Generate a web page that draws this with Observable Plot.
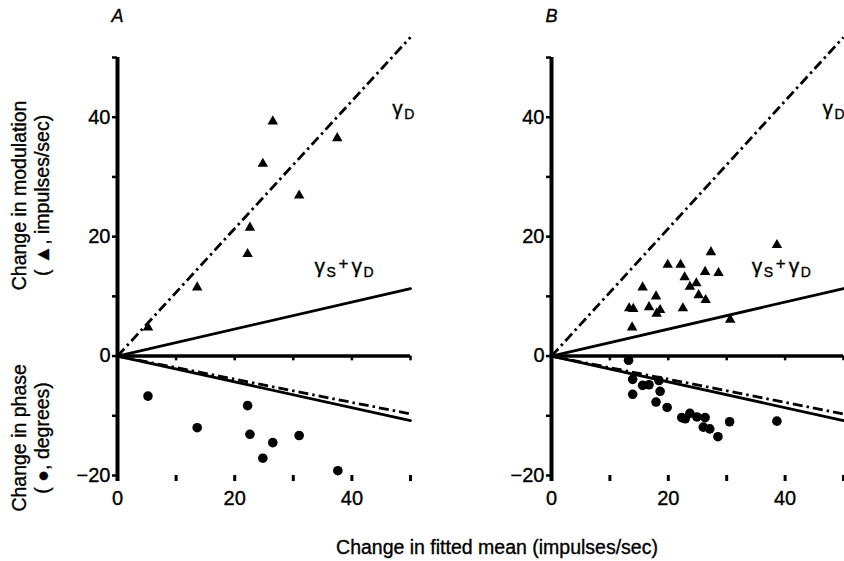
<!DOCTYPE html>
<html><head><meta charset="utf-8">
<script src="https://cdn.jsdelivr.net/npm/d3@7"></script>
<script src="https://cdn.jsdelivr.net/npm/@observablehq/plot@0.6"></script>
<style>
body{margin:0;background:#fff}
#fig{position:relative;width:844px;height:561px;overflow:hidden;background:#fff;font-family:"Liberation Sans",Arial,Helvetica,sans-serif;color:#000}
#pa,#pb{position:absolute;top:0}
#pa{left:0}
#pb{left:430px}
#xt{position:absolute;left:247px;width:500px;top:538px;text-align:center;font-size:19.5px;line-height:1;white-space:nowrap;-webkit-text-stroke:0.35px #000}
#fig svg text{stroke:#000;stroke-width:0.35px}
</style></head><body>
<div id="fig"><div id="pa"></div><div id="pb"></div><div id="xt"></div></div>
<script>
// ---- tick values and labels ----
const xTicks = [0, 10, 20, 30, 40, 50];
const xTickLabels = ["0", "", "20", "", "40", ""];
const yTicks = [-20, -10, 0, 10, 20, 30, 40, 50];
const yTickLabels = ["\u221220", "", "0", "", "20", "", "40", ""];

// ---- fitted lines (endpoints at fitted mean 0 and 50) ----
const fitX = [0, 50];
const modGammaD = [0, 53.4];     // dash-dot, gamma D
const modGammaSD = [0, 11.3];    // solid, gamma S + gamma D
const phaseGammaD = [0, -9.7];   // dash-dot
const phaseGammaSD = [0, -10.8]; // solid

// ---- panel A ----
const aMean       = [5.2, 13.6, 22.2, 22.6, 24.8, 26.5, 31.0, 37.5];
const aModulation = [4.8, 11.5, 17.1, 21.5, 32.2, 39.3, 26.9, 36.5];
const aPhaseMean  = [5.2, 13.6, 22.2, 22.6, 24.8, 26.5, 31.0, 37.6];
const aPhase      = [-6.7, -12.0, -8.3, -13.1, -17.1, -14.5, -13.3, -19.2];

// ---- panel B ----
const bModMean    = [13.3, 14.0, 13.8, 15.6, 16.7, 17.9, 18.0, 18.6, 19.9, 22.1, 22.5, 22.8, 23.7, 24.8, 25.2, 26.4, 26.3, 27.3, 28.6, 30.6, 38.6];
const bModulation = [8.0, 7.9, 4.8, 11.5, 8.2, 10.0, 7.1, 7.7, 15.3, 15.3, 8.0, 13.2, 11.6, 12.2, 10.2, 9.4, 14.1, 17.4, 13.9, 6.1, 18.6];
const bPhaseMean  = [13.2, 13.9, 13.9, 15.6, 16.7, 18.4, 18.6, 17.9, 19.8, 22.3, 22.9, 23.7, 24.9, 26.3, 26.0, 27.1, 28.5, 30.5, 38.6];
const bPhase      = [-0.7, -3.9, -6.4, -4.9, -4.8, -4.1, -5.9, -7.7, -8.6, -10.3, -10.5, -9.6, -10.2, -10.3, -11.9, -12.2, -13.5, -11.0, -10.9];

// ---- texts ----
const panelLetters = ["A", "B"];
const yTitleMod = ["Change in modulation", "( \u25B2, impulses/sec)"];
const yTitlePhase = ["Change in phase", "( \u25CF, degrees)"];
const xTitle = "Change in fitted mean (impulses/sec)";
// label anchors (data coords of label baseline start)
const labelAnchorA = {gD: [46.9, 40.4], gSD: [33.6, 13.9]};
const labelAnchorB = {gD: [46.4, 40.4], gSD: [34.3, 13.9]};
const titleY = {mod: 26.9, phase: -13.7};

document.getElementById("xt").textContent = xTitle;

const xLab = new Map(xTicks.map((d, i) => [d, xTickLabels[i]]));
const yLab = new Map(yTicks.map((d, i) => [d, yTickLabels[i]]));

const fits = [
  {name: "modD", ys: modGammaD, dash: true},
  {name: "modSD", ys: modGammaSD, dash: false},
  {name: "phD", ys: phaseGammaD, dash: true},
  {name: "phSD", ys: phaseGammaSD, dash: false}
];
const fitRows = fits.flatMap(f => fitX.map((x, i) => ({x, y: f.ys[i], fit: f.name, dash: f.dash})));

const gammaDPieces = [{t: "\u03B3", dx: 0, dy: 0, s: 21}, {t: "D", dx: 12, dy: 4, s: 14}];
const gammaSDPieces = [
  {t: "\u03B3", dx: 0, dy: 0, s: 21},
  {t: "S", dx: 12, dy: 4, s: 14},
  {t: "+", dx: 24, dy: -4, s: 17},
  {t: "\u03B3", dx: 37, dy: 0, s: 21},
  {t: "D", dx: 49, dy: 4, s: 14}
];
function pieceMarks(anchor, pieces) {
  return pieces.map(p => Plot.text([p.t], {
    x: () => anchor[0], y: () => anchor[1], text: d => d,
    dx: p.dx, dy: p.dy, fontSize: p.s, textAnchor: "start", lineAnchor: "bottom"
  }));
}

function panel({letter, modX, modY, phX, phY, anchors, width, marginLeft, marginRight, withTitles}) {
  const tri = modX.map((x, i) => ({x, y: modY[i]}));
  const circ = phX.map((x, i) => ({x, y: phY[i]}));
  const marks = [
    Plot.ruleX([0], {y1: yTicks[0] - 1, y2: yTicks[yTicks.length - 1], strokeWidth: 4}),
    Plot.ruleY([0], {x1: xTicks[0], x2: xTicks[xTicks.length - 1], strokeWidth: 3.5}),
    Plot.ruleX(xTicks.slice(1), {x: d => d, y1: 0, y2: -0.8, strokeWidth: 2.5}),
    Plot.axisY({ticks: yTicks, tickFormat: d => yLab.get(d), tickSize: 5, tickPadding: 2, strokeWidth: 2.5, label: null, fontSize: 20}),
    Plot.axisX({ticks: xTicks, tickFormat: d => xLab.get(d), tickSize: 6, tickPadding: 9, strokeWidth: 3, label: null, fontSize: 20}),
    Plot.line(fitRows.filter(d => d.dash), {x: "x", y: "y", z: "fit", strokeWidth: 2.8, strokeDasharray: "10,4,2.5,4", strokeLinecap: "butt"}),
    Plot.line(fitRows.filter(d => !d.dash), {x: "x", y: "y", z: "fit", strokeWidth: 2.8}),
    Plot.dot(tri, {x: "x", y: "y", symbol: "triangle", r: 3.9, fill: "black", stroke: "none"}),
    Plot.dot(circ, {x: "x", y: "y", r: 4.8, fill: "black", stroke: "none"}),
    Plot.text([letter], {frameAnchor: "top-left", dy: -36, fontStyle: "italic", fontSize: 18, textAnchor: "middle", lineAnchor: "bottom"}),
    ...pieceMarks(anchors.gD, gammaDPieces),
    ...pieceMarks(anchors.gSD, gammaSDPieces)
  ];
  if (withTitles) {
    marks.push(
      Plot.text([yTitleMod[0]], {y: () => titleY.mod, frameAnchor: "left", dx: -98, rotate: -90, fontSize: 19.5, textAnchor: "middle", lineAnchor: "middle"}),
      Plot.text([yTitleMod[1]], {y: () => titleY.mod, frameAnchor: "left", dx: -75, rotate: -90, fontSize: 19.5, textAnchor: "middle", lineAnchor: "middle"}),
      Plot.text([yTitlePhase[0]], {y: () => titleY.phase, frameAnchor: "left", dx: -98, rotate: -90, fontSize: 19.5, textAnchor: "middle", lineAnchor: "middle"}),
      Plot.text([yTitlePhase[1]], {y: () => titleY.phase, frameAnchor: "left", dx: -75, rotate: -90, fontSize: 19.5, textAnchor: "middle", lineAnchor: "middle"})
    );
  }
  return Plot.plot({
    width, height: 561,
    marginLeft, marginRight, marginTop: 57, marginBottom: 86,
    x: {domain: [xTicks[0], xTicks[xTicks.length - 1]]},
    y: {domain: [yTicks[0], yTicks[yTicks.length - 1]]},
    style: {fontFamily: "'Liberation Sans', Arial, sans-serif", fontSize: "19px", background: "transparent", overflow: "visible", color: "black"},
    marks
  });
}

document.getElementById("pa").append(panel({
  letter: panelLetters[0], modX: aMean, modY: aModulation, phX: aPhaseMean, phY: aPhase,
  anchors: labelAnchorA, width: 430, marginLeft: 117, marginRight: 20, withTitles: true
}));
document.getElementById("pb").append(panel({
  letter: panelLetters[1], modX: bModMean, modY: bModulation, phX: bPhaseMean, phY: bPhase,
  anchors: labelAnchorB, width: 414, marginLeft: 121, marginRight: 1, withTitles: false
}));
</script>
</body></html>
